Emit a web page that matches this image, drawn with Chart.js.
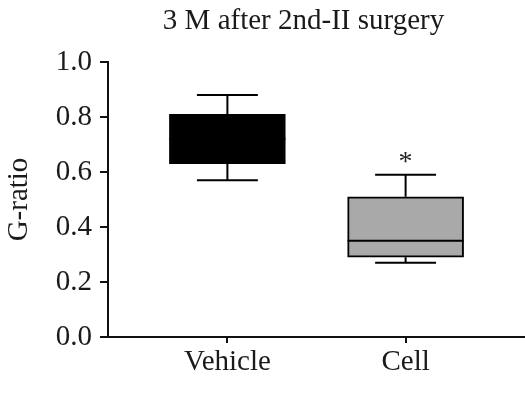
<!DOCTYPE html>
<html>
<head>
<meta charset="utf-8">
<script src="https://cdn.jsdelivr.net/npm/chart.js@4.4.1/dist/chart.umd.min.js"></script>
<style>
  html, body { margin: 0; padding: 0; background: #fff; }
  #wrap { width: 525px; height: 394px; }
</style>
</head>
<body>
<div id="wrap"><canvas id="myChart" width="525" height="394"></canvas></div>
<script>
// groups and box statistics
const groups = ['Vehicle', 'Cell'];
const groupPos = [1, 2];
const whiskerLow = [0.57, 0.27];
const q1 = [0.63, 0.29];
const median = [0.72, 0.35];
const q3 = [0.81, 0.51];
const whiskerHigh = [0.88, 0.59];
const marks = ['', '*'];
const yTicks = [0.0, 0.2, 0.4, 0.6, 0.8, 1.0];

const boxFill = ['#000000', '#a9a9a9'];
const serif = '"Liberation Serif", "DejaVu Serif", serif';

// whiskers, median and significance star
const boxExtras = {
  id: 'boxExtras',
  afterDatasetsDraw(chart) {
    const x = chart.scales.x, y = chart.scales.y;
    const bars = chart.getDatasetMeta(0).data;
    const ctx = chart.ctx;
    ctx.save();
    ctx.strokeStyle = '#000';
    ctx.lineWidth = 2;
    groupPos.forEach((p, i) => {
      const cx = x.getPixelForValue(p);
      const half = (x.getPixelForValue(p + 0.171) - cx);
      const bHalf = bars[i].width / 2;
      ctx.beginPath();
      // upper whisker
      ctx.moveTo(cx, y.getPixelForValue(q3[i]));
      ctx.lineTo(cx, y.getPixelForValue(whiskerHigh[i]));
      ctx.moveTo(cx - half, y.getPixelForValue(whiskerHigh[i]));
      ctx.lineTo(cx + half, y.getPixelForValue(whiskerHigh[i]));
      // lower whisker
      ctx.moveTo(cx, y.getPixelForValue(q1[i]));
      ctx.lineTo(cx, y.getPixelForValue(whiskerLow[i]));
      ctx.moveTo(cx - half, y.getPixelForValue(whiskerLow[i]));
      ctx.lineTo(cx + half, y.getPixelForValue(whiskerLow[i]));
      // median
      ctx.moveTo(cx - bHalf, y.getPixelForValue(median[i]));
      ctx.lineTo(cx + bHalf, y.getPixelForValue(median[i]));
      ctx.stroke();
      if (marks[i]) {
        ctx.fillStyle = '#222';
        ctx.font = '28px ' + serif;
        ctx.textAlign = 'center';
        ctx.textBaseline = 'middle';
        ctx.fillText(marks[i], cx, y.getPixelForValue(whiskerHigh[i]) - 12);
      }
    });
    ctx.restore();
  },
  afterDraw(chart) {
    const ctx = chart.ctx;
    const a = chart.chartArea;
    ctx.save();
    ctx.fillStyle = '#1a1a1a';
    ctx.font = '29px ' + serif;
    ctx.textAlign = 'center';
    ctx.textBaseline = 'middle';
    ctx.fillText('3 M after 2nd-II surgery', (a.left + a.right) / 2 - 13, 21);
    ctx.restore();
  }
};

const ctx = document.getElementById('myChart').getContext('2d');
const myChart = new Chart(ctx, {
  type: 'bar',
  data: {
    datasets: [{
      label: 'G-ratio',
      data: groupPos.map((p, i) => ({ x: p, y: [q1[i], q3[i]] })),
      backgroundColor: boxFill,
      borderColor: '#000',
      borderWidth: 2,
      borderSkipped: false,
      barThickness: 116
    }]
  },
  options: {
    responsive: false,
    animation: false,
    layout: { padding: { top: 62, right: 0, left: 0, bottom: 0 } },
    plugins: { legend: { display: false }, tooltip: { enabled: false }, title: { display: false } },
    scales: {
      x: {
        type: 'linear',
        offset: false,
        min: 0.33,
        max: 2.67,
        afterBuildTicks: (s) => { s.ticks = groupPos.map(v => ({ value: v })); },
        afterFit: (s) => { s.height = 57; },
        ticks: {
          callback: (v) => groups[groupPos.indexOf(v)] || '',
          color: '#1a1a1a',
          font: { family: serif, size: 29 },
          padding: 2,
          maxRotation: 0
        },
        grid: { offset: false, drawOnChartArea: false, tickLength: 6, color: '#111', lineWidth: 2 },
        border: { color: '#111', width: 2 }
      },
      y: {
        min: 0,
        max: 1,
        afterBuildTicks: (s) => { s.ticks = yTicks.map(v => ({ value: v })); },
        afterFit: (s) => { s.width = 108; },
        ticks: {
          callback: (v) => v.toFixed(1),
          color: '#1a1a1a',
          font: { family: serif, size: 29 },
          padding: 8
        },
        grid: { drawOnChartArea: false, tickLength: 8, color: '#111', lineWidth: 2 },
        border: { color: '#111', width: 2 },
        title: {
          display: true,
          text: 'G-ratio',
          color: '#1a1a1a',
          font: { family: serif, size: 29 },
          padding: { top: 2, bottom: 0 }
        }
      }
    }
  },
  plugins: [boxExtras]
});
</script>
</body>
</html>
